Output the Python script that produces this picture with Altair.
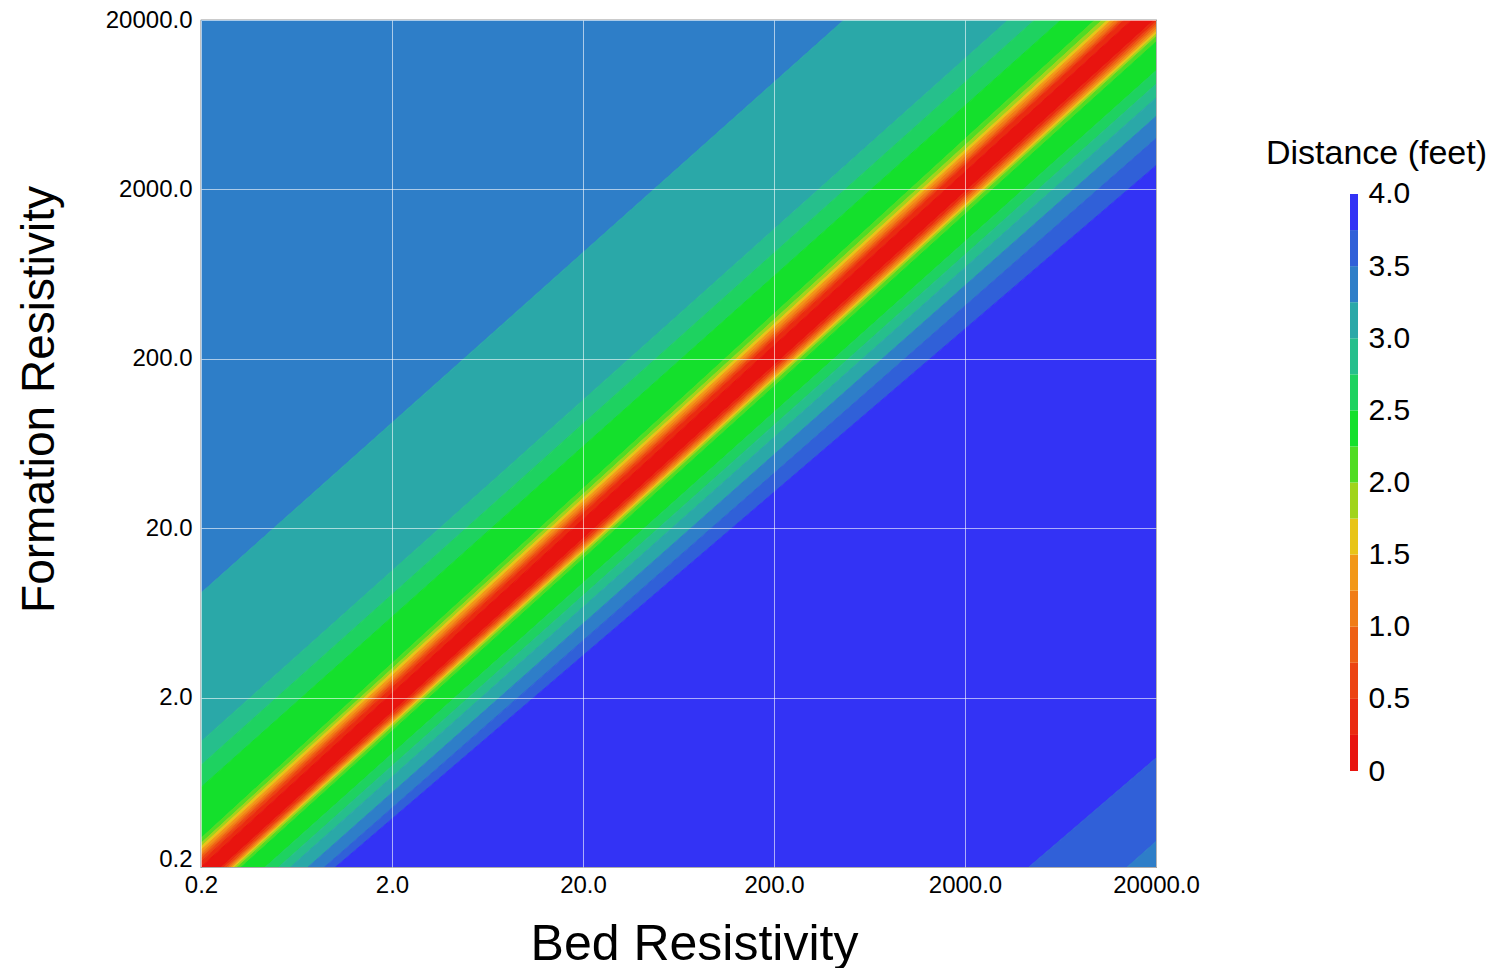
import altair as alt
import pandas as pd

FONT = "Liberation Sans"

# axis ticks (both axes are log scaled resistivities)
axis_ticks = [0.2, 2.0, 20.0, 200.0, 2000.0, 20000.0]
bed_ends = [0.2, 20000.0]

# contour band boundaries, as log10(formation / bed) at the left (bed = 0.2) and
# right (bed = 20000) ends of each boundary line, ordered from upper-left to lower-right
bound_left = [6.0, 1.617, 0.74, 0.60, 0.47, 0.17, 0.14, 0.12, 0.10, 0.08, 0.065, 0.05, 0.03,
              0.0, -0.11, -0.125, -0.14, -0.15, -0.16, -0.17, -0.18, -0.195, -0.215, -0.34,
              -0.41, -0.47, -0.56, -0.64, -0.68, -4.19, -4.84, -6.0]
bound_right = [6.0, 1.642, 0.78, 0.64, 0.50, 0.33, 0.29, 0.26, 0.24, 0.22, 0.20, 0.185, 0.17,
               0.13, 0.01, -0.01, -0.025, -0.04, -0.055, -0.07, -0.085, -0.10, -0.13, -0.30,
               -0.38, -0.46, -0.57, -0.70, -0.86, -4.357, -4.85, -6.0]
# level index of the band lying between boundary i and boundary i + 1
band_level = [13, 12, 11, 10, 9, 8, 7, 6, 5, 4, 3, 2, 1, 0,
              1, 2, 3, 4, 5, 6, 7, 8, 9, 10, 11, 12, 13, 14, 15, 14, 13]

# colour bar: 16 levels of 0.25 ft
level_index = list(range(16))
level_lo = [0.0, 0.25, 0.5, 0.75, 1.0, 1.25, 1.5, 1.75, 2.0, 2.25, 2.5, 2.75, 3.0, 3.25, 3.5, 3.75]
level_hi = [0.25, 0.5, 0.75, 1.0, 1.25, 1.5, 1.75, 2.0, 2.25, 2.5, 2.75, 3.0, 3.25, 3.5, 3.75, 4.0]
level_colors = ["#e8140f", "#ea2a10", "#ec4412", "#ee6014", "#f07c16", "#f29818",
                "#e8c418", "#a0d41c", "#50dc24", "#14e02c", "#1ed260", "#26bf8c",
                "#2aa8a8", "#2e7ec8", "#3060d8", "#3333f5"]
cbar_ticks = [0.0, 0.5, 1.0, 1.5, 2.0, 2.5, 3.0, 3.5, 4.0]

rows = []
for i, lev in enumerate(band_level):
    hi_ends = [bound_left[i], bound_right[i]]
    lo_ends = [bound_left[i + 1], bound_right[i + 1]]
    for b, dh, dl in zip(bed_ends, hi_ends, lo_ends):
        rows.append({"band": i, "bed": b, "f_lo": b * 10 ** dl, "f_hi": b * 10 ** dh, "level": lev})
df = pd.DataFrame(rows)

cdf = pd.DataFrame({"level": level_index, "lo": level_lo, "hi": level_hi,
                    "x0": [0] * 16, "x1": [1] * 16})

color_scale = alt.Scale(domain=level_index, range=level_colors)


def log_scale():
    return alt.Scale(type="log", domain=[0.2, 20000], nice=False)


main = alt.Chart(df).mark_area(clip=True, strokeWidth=1).encode(
    x=alt.X("bed:Q", scale=log_scale(),
            axis=alt.Axis(values=axis_ticks, format=".1f", title="Bed Resistivity",
                          ticks=False, domain=False, grid=True, gridColor="#ffffff",
                          gridOpacity=0.6, gridWidth=1, zindex=1, labelFlush=False,
                          labelFont=FONT, labelFontSize=24, labelColor="#000000", labelPadding=6,
                          titleFont=FONT, titleFontSize=50, titleFontWeight="normal",
                          titleColor="#000000", titleX=493, titleY=92, titleAlign="center",
                          titleBaseline="alphabetic")),
    y=alt.Y("f_lo:Q", scale=log_scale(),
            axis=alt.Axis(values=axis_ticks, format=".1f", title="Formation Resistivity",
                          ticks=False, domain=False, grid=True, gridColor="#ffffff",
                          gridOpacity=0.6, gridWidth=1, zindex=1, labelFlush=False,
                          labelOffset={"condition": {"test": "datum.value < 0.5", "value": -8},
                                       "value": 0},
                          labelFont=FONT, labelFontSize=24, labelColor="#000000", labelPadding=9,
                          titleFont=FONT, titleFontSize=46, titleFontWeight="normal",
                          titleColor="#000000", titleX=-162, titleY=379, titleAngle=270,
                          titleAlign="center", titleBaseline="middle")),
    y2="f_hi:Q",
    fill=alt.Fill("level:O", scale=color_scale, legend=None),
    stroke=alt.Stroke("level:O", scale=color_scale, legend=None),
    detail="band:N",
).properties(width=955, height=847,
             view=alt.ViewBackground(stroke="#333333", strokeWidth=1.2))

cbar = alt.Chart(cdf).mark_rect().encode(
    x=alt.X("x0:Q", scale=alt.Scale(domain=[0, 1]), axis=None),
    x2="x1:Q",
    y=alt.Y("lo:Q", scale=alt.Scale(domain=[-0.6655, 5.2062], nice=False, zero=False),
            axis=alt.Axis(orient="right", values=cbar_ticks, ticks=False, domain=False, grid=False,
                          labelExpr="datum.value == 0 ? '0' : format(datum.value, '.1f')",
                          labelFont=FONT, labelFontSize=30, labelColor="#000000", labelPadding=10,
                          title="Distance (feet)", titleFont=FONT, titleFontSize=34,
                          titleFontWeight="normal", titleColor="#000000", titleAngle=0,
                          titleX=18, titleY=133, titleAlign="center", titleBaseline="middle")),
    y2="hi:Q",
    color=alt.Color("level:O", scale=color_scale, legend=None),
).properties(width=8, height=847)

chart = alt.hconcat(main, cbar, spacing=65).resolve_scale(
    x="independent", y="independent"
).properties(
    padding={"left": 15, "top": 7, "right": 5, "bottom": 0},
    background="#ffffff",
).configure_view(strokeWidth=0)

chart.save("out.html", embed_options={"renderer": "svg", "actions": False})
